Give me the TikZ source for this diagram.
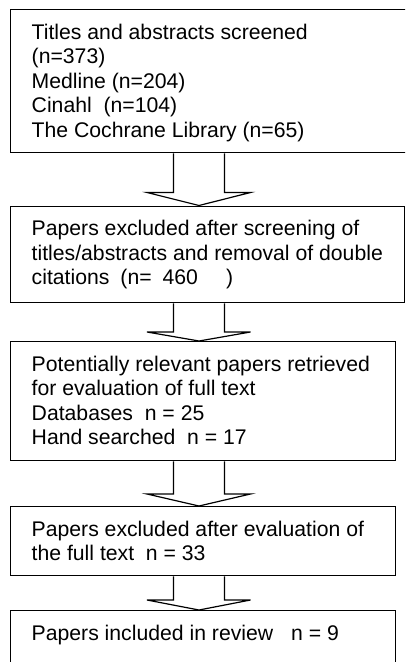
\documentclass[tikz,border=0pt]{standalone}
\usepackage{fontspec}
\setmainfont{Liberation Sans}
\usetikzlibrary{calc}
\tikzset{
  boxshape/.style={draw=black, line width=1.3pt, rectangle, inner sep=0pt, anchor=north west},
  boxtext/.style={anchor=north west, inner sep=0pt, align=left, font=\fontsize{21.2}{24.5}\selectfont},
  arrowline/.style={draw=black, line width=1.2pt, line join=miter},
}
\newcommand{\flowarrow}[3]{%
  \draw[arrowline] (173.5,0 |- #1.south) -- ($(173.5,0 |- #2.north)+(0,-#3)$)
    -- ($(147,0 |- #2.north)+(0,-#3)$) -- (199,0 |- #2.north)
    -- ($(250.5,0 |- #2.north)+(0,-#3)$) -- ($(224.5,0 |- #2.north)+(0,-#3)$)
    -- (224.5,0 |- #1.south);}
\begin{document}
\begin{tikzpicture}[x=1pt, y=-1pt]
\useasboundingbox (0,0) rectangle (405,662);
\clip (0,0) rectangle (405,662);
\fill[white] (0,0) rectangle (405,662);
\node[boxshape, minimum width=397pt, minimum height=143pt] (b1) at (10,9) {};
\node[boxshape, minimum width=394pt, minimum height=96.5pt] (b2) at (10,205.5) {};
\node[boxshape, minimum width=385pt, minimum height=119pt] (b3) at (10,341) {};
\node[boxshape, minimum width=385pt, minimum height=69pt] (b4) at (10,506) {};
\node[boxshape, minimum width=385pt, minimum height=70pt] (b5) at (10,610) {};
\node[boxtext] (t1) at ($(b1.north west)+(21.5,14.5)$) {Titles and abstracts screened\\(n=373)\\Medline (n=204)\\Cinahl\ \ (n=104)\\The Cochrane Library (n=65)};
\node[boxtext] (t2) at ($(b2.north west)+(21.5,14.5)$) {Papers excluded after screening of\\titles/abstracts and removal of double\\citations\hspace{11pt}(n=\hspace{11pt}460\hspace{28pt})};
\node[boxtext] (t3) at ($(b3.north west)+(21.5,14.5)$) {Potentially relevant papers retrieved\\for evaluation of full text\\Databases\ \ n = 25\\Hand searched\ \ n = 17};
\node[boxtext] (t4) at ($(b4.north west)+(21.5,14.5)$) {Papers excluded after evaluation of\\the full text\ \ n = 33};
\node[boxtext] (t5) at ($(b5.north west)+(21.5,14.5)$) {Papers included in review\hspace{18pt}n = 9};
\flowarrow{b1}{b2}{13}
\flowarrow{b2}{b3}{9}
\flowarrow{b3}{b4}{12}
\flowarrow{b4}{b5}{10}
\end{tikzpicture}
\end{document}
